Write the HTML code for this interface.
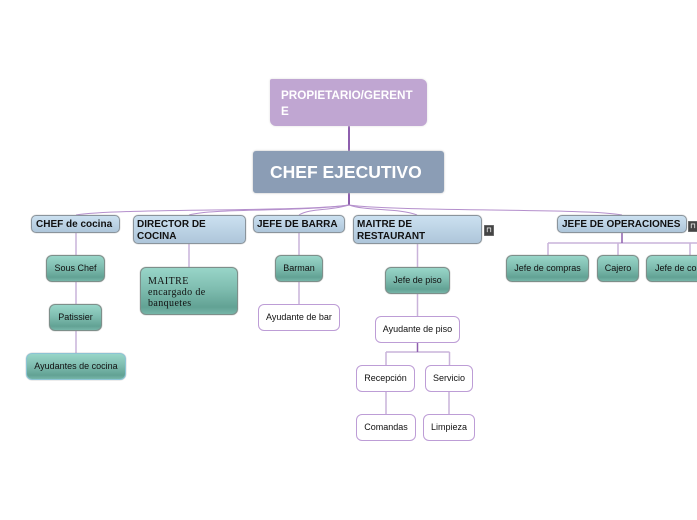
<!DOCTYPE html>
<html><head><meta charset="utf-8">
<style>
html,body{margin:0;padding:0;background:#fff}
#c{position:relative;width:697px;height:520px;overflow:hidden;background:#fff;font-family:"Liberation Sans",sans-serif}
svg{position:absolute;left:0;top:0}
.n{position:absolute;box-sizing:border-box;display:flex;align-items:center;justify-content:center;text-align:center;white-space:nowrap}
.h{background:linear-gradient(#cbe0f0,#aec6da);border:1px solid #8a949c;border-radius:5px;font:bold 10px/12px "Liberation Sans",sans-serif;color:#111;justify-content:flex-start;text-align:left;padding:2px 0 0 3px;box-shadow:0 0 1px #999}
.t{background:linear-gradient(#98d5c8 0%,#7fbdb0 45%,#62a294 85%,#76b5a8 100%);border:1px solid #7d8f8a;border-radius:6px;font-size:9px;color:#111;padding-bottom:1px;box-shadow:0 0 1px #888}
.w{background:#fff;border:1px solid #bd9dd6;border-radius:6px;font-size:9px;color:#111;padding-bottom:1px}
.i{position:absolute;width:10px;height:11px;background:#444;border-radius:1px;box-shadow:inset 0 0 0 1px #666;color:#ddd;font:bold 7px/11px "Liberation Sans",sans-serif;text-align:center}
</style></head><body><div id="c">
<svg width="697" height="520" fill="none">
<g stroke="#8e5fae" stroke-width="2"><path d="M349 126V151"/><path d="M349 193V205"/></g>
<g stroke="#b48fcc" stroke-width="1">
<path d="M349 205C300 212 120 208 76 215"/>
<path d="M349 205C300 212 215 208 189 215"/>
<path d="M349 205C330 211 310 208 299 215"/>
<path d="M349 205C365 211 400 208 417 215"/>
<path d="M349 205C400 212 590 208 622 215"/>
</g>
<g stroke="#c9b3da" stroke-width="1.500">
<path d="M76 233V255M76 281V304M76 331V353"/>
<path d="M189 244V267"/>
<path d="M299 233V255M299 281V305"/>
<path d="M417.500 244V267M417.500 293V316"/>
<path d="M386 352H449.500M386 352V365M449.500 352V365M386 391V414M449 391V414"/>
<path d="M548 243H697M548 243V255M618 243V255M690 243V255"/>
</g>
<g stroke="#8e5fae" stroke-width="1.500"><path d="M417.500 342V352"/><path d="M622 233V243"/></g>
</svg>

<div class="n" style="left:270px;top:79px;width:157px;height:47px;background:#c0a6d2;border-radius:2px 6px 6px 6px;color:#fff;font-size:11.700px;font-weight:bold;line-height:16px;justify-content:flex-start;text-align:left;padding:2px 0 0 11px;box-shadow:0 0 2px #ddd"><span>PROPIETARIO/GERENT<br>E</span></div>
<div class="n" style="left:253px;top:151px;width:191px;height:42px;background:#8b9db5;border-radius:3px;color:#fff;font-size:17.500px;font-weight:bold;justify-content:flex-start;padding-left:17px;box-shadow:0 0 2px #bbb">CHEF EJECUTIVO</div>

<div class="n h" style="left:31px;top:215px;width:89px;height:18px;padding-left:4px">CHEF de cocina</div>
<div class="n h" style="left:133px;top:215px;width:113px;height:29px">DIRECTOR DE<br>COCINA</div>
<div class="n h" style="left:253px;top:215px;width:92px;height:18px">JEFE DE BARRA</div>
<div class="n h" style="left:353px;top:215px;width:129px;height:29px">MAITRE DE<br>RESTAURANT</div>
<div class="n h" style="left:557px;top:215px;width:130px;height:18px;padding-left:4px">JEFE DE OPERACIONES</div>
<div class="i" style="left:484px;top:225px">⊓</div>
<div class="i" style="left:688px;top:221px">⊓</div>

<div class="n t" style="left:46px;top:255px;width:59px;height:27px">Sous Chef</div>
<div class="n t" style="left:49px;top:304px;width:53px;height:27px">Patissier</div>
<div class="n t" style="left:26px;top:353px;width:100px;height:27px;border-color:#8cc4d4">Ayudantes de cocina</div>
<div class="n t" style="left:140px;top:267px;width:98px;height:48px;font:10px/11px 'Liberation Serif',serif;letter-spacing:.4px;justify-content:flex-start;text-align:left;padding:2px 0 0 7px">MAITRE<br>encargado de<br>banquetes</div>
<div class="n t" style="left:275px;top:255px;width:48px;height:27px">Barman</div>
<div class="n t" style="left:385px;top:267px;width:65px;height:27px">Jefe de piso</div>
<div class="n t" style="left:506px;top:255px;width:83px;height:27px">Jefe de compras</div>
<div class="n t" style="left:597px;top:255px;width:42px;height:27px">Cajero</div>
<div class="n t" style="left:646px;top:255px;width:90px;height:27px;justify-content:flex-start;padding-left:8px">Jefe de compras</div>

<div class="n w" style="left:258px;top:304px;width:82px;height:27px">Ayudante de bar</div>
<div class="n w" style="left:375px;top:316px;width:85px;height:27px">Ayudante de piso</div>
<div class="n w" style="left:356px;top:365px;width:59px;height:27px">Recepción</div>
<div class="n w" style="left:425px;top:365px;width:48px;height:27px">Servicio</div>
<div class="n w" style="left:356px;top:414px;width:60px;height:27px">Comandas</div>
<div class="n w" style="left:423px;top:414px;width:52px;height:27px">Limpieza</div>
</div></body></html>
